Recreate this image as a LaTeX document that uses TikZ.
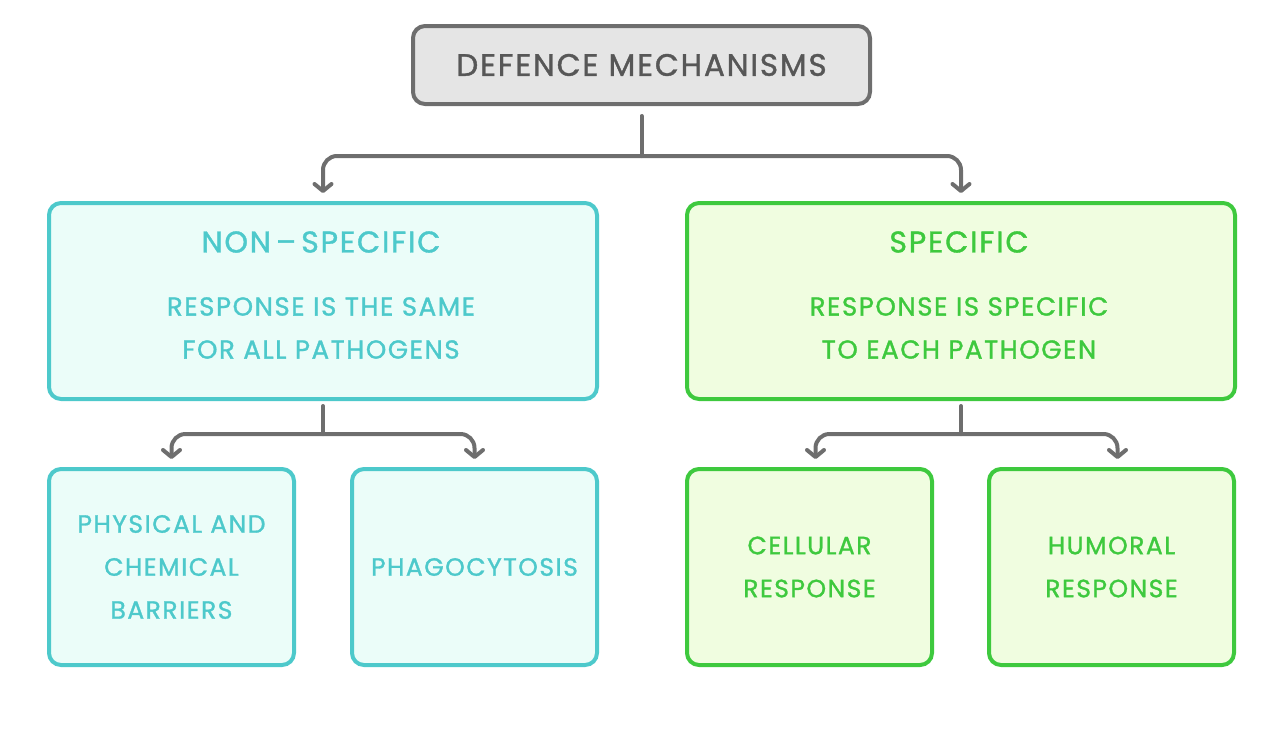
\documentclass[tikz,border=0pt]{standalone}
\usepackage{fontspec}
\setmainfont{Poppins}[LetterSpace=6,FakeBold=1.2]
\usetikzlibrary{arrows.meta,calc}
\definecolor{gline}{HTML}{6E6E6E}
\definecolor{gfill}{HTML}{E5E5E5}
\definecolor{gtext}{HTML}{575757}
\definecolor{tline}{HTML}{4DC9CB}
\definecolor{tfill}{HTML}{EBFDF9}
\definecolor{nline}{HTML}{3EC93E}
\definecolor{nfill}{HTML}{F0FDE0}
\begin{document}
\begin{tikzpicture}[x=1pt,y=-1pt,
  box/.style={rounded corners=12pt,line width=4pt,anchor=north west,inner sep=0pt},
  topbox/.style={box,draw=gline,fill=gfill,text=gtext,minimum width=457pt,minimum height=78pt,font=\fontsize{31}{36}\selectfont},
  tealbox/.style={box,draw=tline,fill=tfill,text=tline},
  greenbox/.style={box,draw=nline,fill=nfill,text=nline},
  bigsize/.style={minimum width=548pt,minimum height=196pt},
  smallsize/.style={minimum width=245pt,minimum height=196pt,align=center,font=\fontsize{25}{43}\selectfont},
  tealtext/.style={text=tline,inner sep=0pt},
  greentext/.style={text=nline,inner sep=0pt},
  title/.style={font=\fontsize{30}{36}\selectfont},
  sub/.style={align=center,font=\fontsize{26}{43}\selectfont},
  conn/.style={draw=gline,line width=4pt,line cap=round,rounded corners=14pt},
  arr/.style={conn,-{Straight Barb[length=7pt,width=17pt,round]}}
]
\useasboundingbox (0,0) rectangle (1262,740);
\node[topbox] (top) at (411,24) {DEFENCE MECHANISMS};
\node[tealbox,bigsize] (ns) at (47,201) {};
\node[greenbox,bigsize] (sp) at (685,201) {};
\node[tealtext,title] (nst) at (321,242) {NON\,–\,SPECIFIC};
\node[tealtext,sub] (nss) at (321,328) {RESPONSE IS THE SAME\\FOR ALL PATHOGENS};
\node[greentext,title] (spt) at (959,242) {SPECIFIC};
\node[greentext,sub] (sps) at (959,328) {RESPONSE IS SPECIFIC\\TO EACH PATHOGEN};
\node[tealbox,smallsize] (phy) at (47,467) {PHYSICAL AND\\CHEMICAL\\BARRIERS};
\node[tealbox,smallsize] (pha) at (350,467) {PHAGOCYTOSIS};
\node[greenbox,smallsize] (cel) at (685,467) {CELLULAR\\RESPONSE};
\node[greenbox,smallsize] (hum) at (987,467) {HUMORAL\\RESPONSE};
% connectors
\coordinate (j0) at ($(top.south)+(0,50)$);
\draw[conn,shorten <=10pt] (top.south) -- (j0);
\draw[arr,shorten >=8pt] (j0) -| (ns.north);
\draw[arr,shorten >=8pt] (j0) -| (sp.north);
\coordinate (j1) at ($(ns.south)+(0,33)$);
\draw[conn,shorten <=5pt] (ns.south) -- (j1);
\draw[arr,shorten >=8pt] (j1) -| (phy.north);
\draw[arr,shorten >=8pt] (j1) -| (pha.north);
\coordinate (j2) at ($(sp.south)+(0,33)$);
\draw[conn,shorten <=5pt] (sp.south) -- (j2);
\draw[arr,shorten >=8pt] (j2) -| ($(cel.north)+(6,0)$);
\draw[arr,shorten >=8pt] (j2) -| ($(hum.north)+(6,0)$);
\end{tikzpicture}
\end{document}
